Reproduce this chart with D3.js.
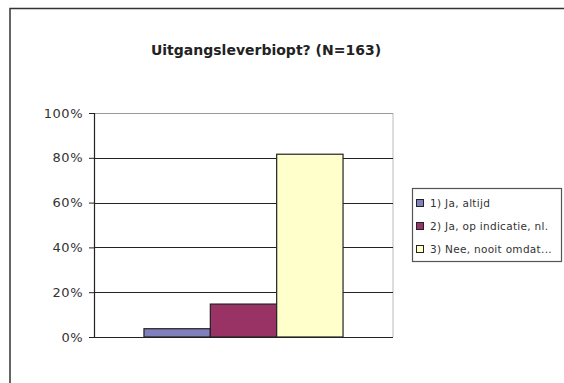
<!DOCTYPE html>
<html>
<head>
<meta charset="utf-8">
<script src="https://cdn.jsdelivr.net/npm/d3@7"></script>
<style>
  body { margin: 0; background: #fff; }
  text { font-family: "DejaVu Sans", Arial, sans-serif; }
</style>
</head>
<body>
<div id="chart"></div>
<script>
// data (N=163)
const categories = ['1) Ja, altijd', '2) Ja, op indicatie, nl.', '3) Nee, nooit omdat...'];
const values = [3.7, 14.7, 81.6];
const colors = ['#8080bd', '#993366', '#ffffcc'];
const yTicks = [0, 20, 40, 60, 80, 100];
const title = 'Uitgangsleverbiopt? (N=163)';

const W = 564;
const H = 383;

const svg = d3.select('#chart').append('svg')
  .attr('width', W)
  .attr('height', H);

// outer chart border (runs off right and bottom)
svg.append('path')
  .attr('d', `M10,${H + 2} V8.5 H${W + 2}`)
  .attr('fill', 'none')
  .attr('stroke', '#333')
  .attr('stroke-width', 1.5);

svg.append('text')
  .attr('x', 266)
  .attr('y', 55)
  .attr('text-anchor', 'middle')
  .attr('font-size', 14)
  .attr('font-weight', 'bold')
  .attr('fill', '#222')
  .text(title);

// plot area
const plot = { left: 94, right: 393, top: 113, bottom: 337 };

const y = d3.scaleLinear()
  .domain([0, 100])
  .range([plot.bottom, plot.top]);

const x = d3.scaleBand()
  .domain(['group'])
  .range([plot.left, plot.right])
  .paddingInner(0)
  .paddingOuter(0.251);

const xs = d3.scaleBand()
  .domain(categories)
  .range([0, x.bandwidth()]);

// plot area right edge
svg.append('line')
  .attr('x1', plot.right).attr('x2', plot.right)
  .attr('y1', plot.top).attr('y2', plot.bottom)
  .attr('stroke', '#bbb');

// gridlines
svg.append('g')
  .selectAll('line')
  .data(yTicks.filter((d) => d > 0))
  .join('line')
  .attr('x1', plot.left)
  .attr('x2', plot.right)
  .attr('y1', (d) => Math.round(y(d)) + 0.5)
  .attr('y2', (d) => Math.round(y(d)) + 0.5)
  .attr('stroke', (d) => (d === 100 ? '#999' : '#222'))
  .attr('stroke-width', 1.2);

// bars
svg.append('g')
  .selectAll('rect')
  .data(values)
  .join('rect')
  .attr('x', (d, i) => x('group') + xs(categories[i]))
  .attr('y', (d) => y(d))
  .attr('width', xs.bandwidth())
  .attr('height', (d) => y(0) - y(d))
  .attr('fill', (d, i) => colors[i])
  .attr('stroke', '#222')
  .attr('stroke-width', 1.2);

// y axis
const yAxis = svg.append('g')
  .attr('transform', `translate(${plot.left},0)`)
  .call(d3.axisLeft(y)
    .tickValues(yTicks)
    .tickFormat((d) => `${d}%`)
    .tickSize(5)
    .tickPadding(6));
yAxis.select('.domain').attr('stroke', '#222').attr('stroke-width', 1.2);
yAxis.selectAll('.tick line').attr('stroke', '#222');
yAxis.selectAll('.tick text')
  .attr('font-size', 13)
  .attr('letter-spacing', 0.5)
  .attr('fill', '#333')
  .style('font-family', '"DejaVu Sans", Arial, sans-serif');

// x axis baseline
svg.append('line')
  .attr('x1', plot.left).attr('x2', plot.right)
  .attr('y1', plot.bottom + 0.5).attr('y2', plot.bottom + 0.5)
  .attr('stroke', '#222')
  .attr('stroke-width', 1.2);

// legend
const legend = svg.append('g');
legend.append('clipPath')
  .attr('id', 'legend-clip')
  .append('rect')
  .attr('x', 413)
  .attr('y', 189)
  .attr('width', 148)
  .attr('height', 72);

legend.append('rect')
  .attr('x', 412.5)
  .attr('y', 188.5)
  .attr('width', 149)
  .attr('height', 73)
  .attr('fill', '#fff')
  .attr('stroke', '#555')
  .attr('stroke-width', 1.2);

const ly = d3.scalePoint()
  .domain(categories)
  .range([203, 249]);

const items = legend.append('g')
  .attr('clip-path', 'url(#legend-clip)')
  .selectAll('g.item')
  .data(categories)
  .join('g')
  .attr('class', 'item')
  .attr('transform', (d) => `translate(416,${ly(d)})`);

items.append('rect')
  .attr('x', 0.5)
  .attr('y', -3.5)
  .attr('width', 7)
  .attr('height', 7)
  .attr('fill', (d, i) => colors[i])
  .attr('stroke', '#222');

items.append('text')
  .attr('x', 14)
  .attr('y', 3.5)
  .attr('font-size', 10.5)
  .attr('letter-spacing', 0.3)
  .attr('fill', '#333')
  .text((d) => d);
</script>
</body>
</html>
